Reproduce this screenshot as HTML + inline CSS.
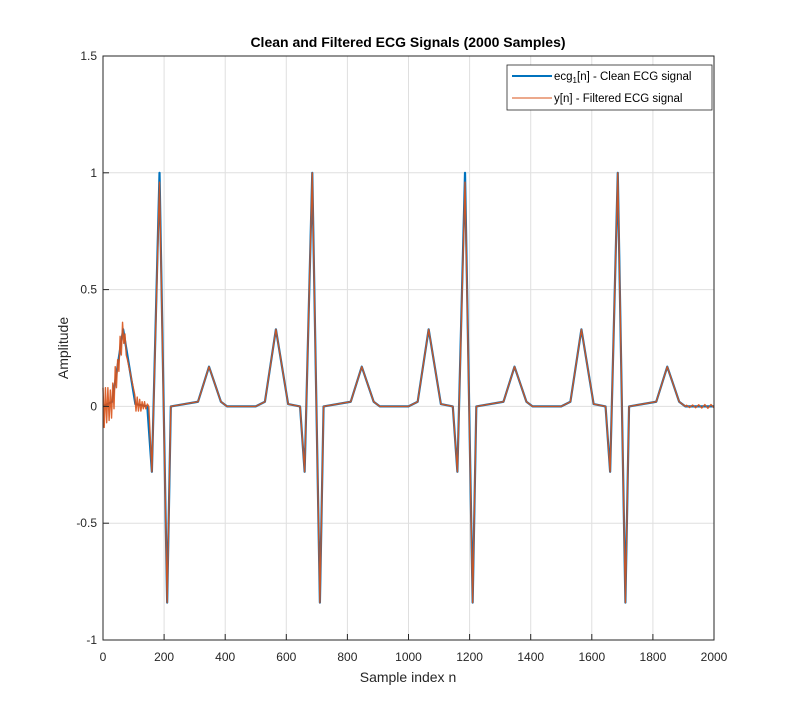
<!DOCTYPE html>
<html><head><meta charset="utf-8"><style>
body{margin:0;background:#fff;}
svg{font-family:"Liberation Sans",Arial,sans-serif;}
</style></head><body>
<svg id="chart" width="790" height="720">
<rect width="790" height="720" fill="#fff"/>
<g id="grid"></g>
<g id="series"></g>
<rect x="103" y="56" width="611" height="584" fill="none" stroke="#262626" stroke-width="1"/>
<g id="ticks"></g>
<text x="408" y="47" text-anchor="middle" font-size="14" font-weight="bold" fill="#000">Clean and Filtered ECG Signals (2000 Samples)</text>
<text x="408" y="682" text-anchor="middle" font-size="14" fill="#262626">Sample index n</text>
<text transform="translate(68,348) rotate(-90)" text-anchor="middle" font-size="14" fill="#262626">Amplitude</text>
<g>
<rect x="507" y="65" width="205" height="45" fill="#fff" stroke="#262626" stroke-width="0.8"/>
<line x1="512" y1="76" x2="552" y2="76" stroke="#0072BD" stroke-width="2"/>
<text x="554" y="80" font-size="11.5" fill="#000">ecg<tspan font-size="8" dy="3">1</tspan><tspan dy="-3">[n] - Clean ECG signal</tspan></text>
<line x1="512" y1="98" x2="552" y2="98" stroke="#D95319" stroke-width="1"/>
<text x="554" y="102" font-size="11.5" fill="#000">y[n] - Filtered ECG signal</text>
</g>
</svg>
<script>
const xTicks=[0,200,400,600,800,1000,1200,1400,1600,1800,2000];
const yTicks=[-1,-0.5,0,0.5,1,1.5];
const yTickLabels=["-1","-0.5","0","0.5","1","1.5"];
const cleanN=[0,30,66,106,145,160,185,210,222,311,347,386,406,500,530,566,606,645,660,685,710,722,811,847,886,906,1000,1030,1066,1106,1145,1160,1185,1210,1222,1311,1347,1386,1406,1500,1530,1566,1606,1645,1660,1685,1710,1722,1811,1847,1886,1906,2000];
const cleanV=[0,0.02,0.33,0.01,0,-0.28,1,-0.84,0,0.02,0.17,0.02,0,0,0.02,0.33,0.01,0,-0.28,1,-0.84,0,0.02,0.17,0.02,0,0,0.02,0.33,0.01,0,-0.28,1,-0.84,0,0.02,0.17,0.02,0,0,0.02,0.33,0.01,0,-0.28,1,-0.84,0,0.02,0.17,0.02,0,0];
const filtN=[0,4,8,12,16,20,24,28,32,36,40,44,48,52,56,60,64,68,72,76,80,88,96,104,108,112,116,120,124,128,132,136,140,145,150,160,185,210,222,311,347,386,406,500,530,566,606,645,660,685,710,722,811,847,886,906,1000,1030,1066,1106,1145,1160,1185,1210,1222,1311,1347,1386,1406,1500,1530,1566,1606,1645,1660,1685,1710,1722,1811,1847,1886,1906,1910,1920,1930,1940,1950,1960,1970,1980,1990,2000];
const filtV=[0.08,-0.09,0.08,-0.07,0.08,-0.06,0.07,-0.05,0.1,-0.01,0.17,0.08,0.2,0.15,0.3,0.22,0.36,0.27,0.31,0.22,0.2,0.15,0.1,0.05,-0.02,0.04,-0.02,0.03,-0.02,0.02,-0.01,0.02,-0.01,0.01,0,-0.28,0.96,-0.84,0,0.02,0.17,0.02,0,0,0.02,0.33,0.01,0,-0.28,1,-0.84,0,0.02,0.17,0.02,0,0,0.02,0.33,0.01,0,-0.28,0.96,-0.84,0,0.02,0.17,0.02,0,0,0.02,0.33,0.01,0,-0.28,1,-0.84,0,0.02,0.17,0.02,0,0.005,-0.005,0.006,-0.006,0.007,-0.007,0.008,-0.008,0.008,-0.006];
const X=n=>103+n/2000*611;
const Y=v=>406.4-v*233.6;
const NS="http://www.w3.org/2000/svg";
const grid=document.getElementById('grid'),ticks=document.getElementById('ticks'),ser=document.getElementById('series');
function mk(tag,attrs,parent){const e=document.createElementNS(NS,tag);for(const k in attrs)e.setAttribute(k,attrs[k]);parent.appendChild(e);return e;}
xTicks.forEach(t=>{
  const g=mk('line',{x1:X(t),x2:X(t),y1:56,y2:640,stroke:'#dfdfdf','stroke-width':1},grid);
  
  
  const tk=mk('line',{x1:X(t),x2:X(t),y1:640,y2:634,stroke:'#262626'},ticks);
  
  
  const l=mk('text',{x:X(t),y:661,'text-anchor':'middle','font-size':12,fill:'#262626'},ticks);
  l.textContent=t;
  
  
});
yTicks.forEach((t,i)=>{
  const g=mk('line',{x1:103,x2:714,y1:Y(t),y2:Y(t),stroke:'#dfdfdf','stroke-width':1},grid);
  
  
  const tk=mk('line',{x1:103,x2:109,y1:Y(t),y2:Y(t),stroke:'#262626'},ticks);
  
  
  const l=mk('text',{x:97,y:Y(t)+4,'text-anchor':'end','font-size':12,fill:'#262626'},ticks);
  l.textContent=yTickLabels[i];
  
  
});
function pts(N,V){return N.map((n,i)=>X(n).toFixed(2)+','+Y(V[i]).toFixed(2)).join(' ');}
const c=mk('polyline',{points:pts(cleanN,cleanV),fill:'none',stroke:'#0072BD','stroke-width':2.2,'stroke-linejoin':'round'},ser);


const f=mk('polyline',{points:pts(filtN,filtV),fill:'none',stroke:'#D95319','stroke-width':1.4,'stroke-linejoin':'round','stroke-opacity':0.9},ser);


</script>
</body></html>
